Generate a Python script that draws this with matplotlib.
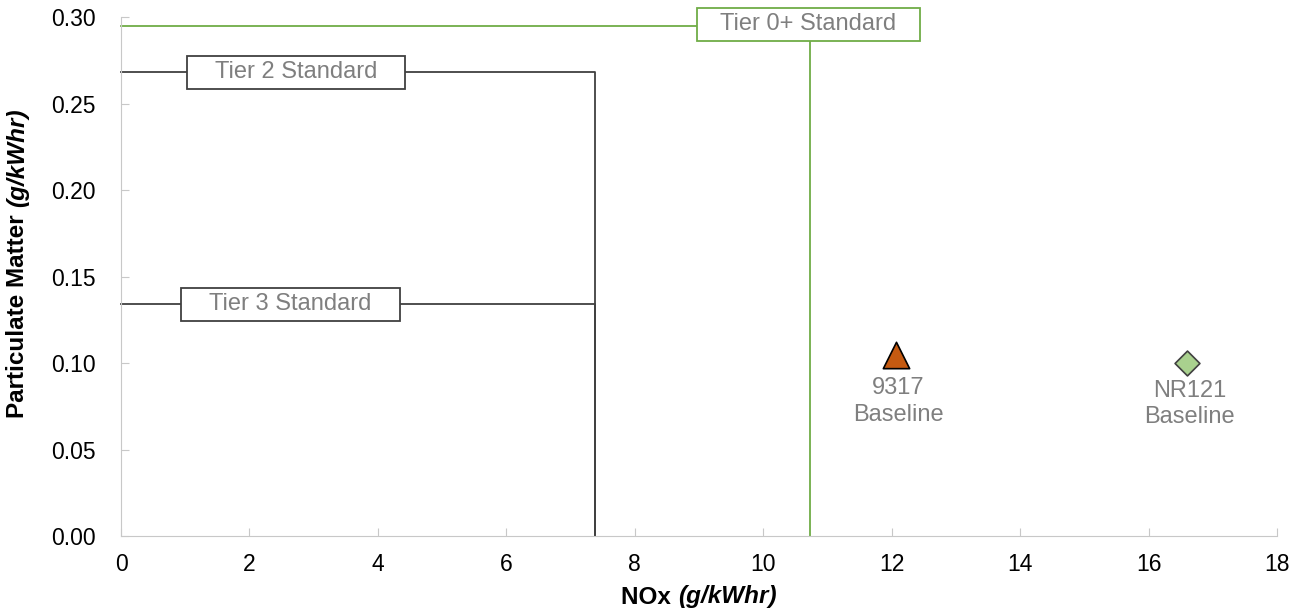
import numpy as np
import matplotlib.pyplot as plt
from matplotlib.patches import Rectangle
from matplotlib.transforms import IdentityTransform

plt.rcParams['font.family'] = ['Liberation Sans', 'DejaVu Sans']

# emission standards: NOx limit and PM limit
tier_names = ["Tier 0+ Standard", "Tier 2 Standard", "Tier 3 Standard"]
tier_nox = [10.73, 7.38, 7.38]
tier_pm = [0.295, 0.268, 0.134]

# measured baselines
eng_names = ["9317\nBaseline", "NR121\nBaseline"]
eng_nox = [12.06, 16.60]
eng_pm = [0.1046, 0.1000]

tier_colors = ["#70AD47", "#404040", "#404040"]
label_x = [10.705, 2.725, 2.64]
label_dy = [0.0009, 0.0, 0.0]
txt_gray = "#7F7F7F"

fig = plt.figure(figsize=(13.04, 6.14), dpi=100)
ax = fig.add_axes([0.0928, 0.127, 0.8865, 0.8453])

tier_txt = []
for name, nx, pm, c, lx, dy in zip(tier_names, tier_nox, tier_pm, tier_colors, label_x, label_dy):
    ax.plot([0, nx, nx], [pm, pm, 0], color=c, lw=1.3, zorder=2, clip_on=False)
    t = ax.text(lx, pm + dy, name, ha='center', va='center', fontsize=17, color=txt_gray,
                zorder=5)
    tier_txt.append((t, lx, pm + dy, c))

ax.scatter(eng_nox[0], eng_pm[0], marker='^', s=360, color='#C55A11', edgecolor='black',
           lw=1.2, zorder=4)
ax.scatter(eng_nox[1], eng_pm[1], marker='D', s=160, color='#A9D18E', edgecolor='#404040',
           lw=1.2, zorder=4)
for n, x, y, off in zip(eng_names, eng_nox, eng_pm, [16, 12]):
    ax.annotate(n, (x, y), xytext=(2, -off), textcoords='offset points', ha='center',
                va='top', fontsize=17, color=txt_gray, linespacing=1.25)

ax.set_xlim(0, 18)
ax.set_ylim(0, 0.30)
ax.set_xticks(np.arange(0, 19, 2))
ax.set_yticks(np.arange(0, 0.31, 0.05))
ax.yaxis.set_major_formatter(plt.FormatStrFormatter('%.2f'))
for s in ['top', 'right']:
    ax.spines[s].set_visible(False)
for s in ['left', 'bottom']:
    ax.spines[s].set_color('#C8C8C8')
ax.tick_params(direction='in', length=6, color='#C8C8C8', labelsize=16.5, labelcolor='black')
ax.tick_params(axis='x', pad=12.5)
ax.tick_params(axis='y', pad=18)

fig.canvas.draw()
r = fig.canvas.get_renderer()

# label boxes sized in pixels around the text
for t, lx, ly, c in tier_txt:
    bb = t.get_window_extent(r)
    cx, cy = ax.transData.transform((lx, ly))
    w = min(bb.width + 56, 223)
    h = 33
    rect = Rectangle((cx - w / 2, cy - h / 2), w, h, fc='white', ec=c, lw=1.3, zorder=3,
                     transform=IdentityTransform(), clip_on=False)
    ax.add_artist(rect)

# axis titles, bold with italic units
t1 = fig.text(0.5, 1 - 597 / 614, "NOx ", fontsize=17.5, fontweight='bold', ha='left',
              va='center')
t2 = fig.text(0.5, 1 - 597 / 614, "(g/kWhr)", fontsize=17.5, fontweight='bold',
              style='italic', ha='left', va='center')
w1 = t1.get_window_extent(r).width
w2 = t2.get_window_extent(r).width
cx = 699
t1.set_x((cx - (w1 + w2) / 2) / 1304)
t2.set_x((cx - (w1 + w2) / 2 + w1) / 1304)

s1 = fig.text(18 / 1304, 0.5, "Particulate Matter ", fontsize=17.5, fontweight='bold',
              rotation=90, ha='center', va='bottom')
s2 = fig.text(18 / 1304, 0.5, "(g/kWhr)", fontsize=17.5, fontweight='bold', style='italic',
              rotation=90, ha='center', va='bottom')
h1 = s1.get_window_extent(r).height
h2 = s2.get_window_extent(r).height
cy = 614 - 263
s1.set_y((cy - (h1 + h2) / 2) / 614)
s2.set_y((cy - (h1 + h2) / 2 + h1) / 614)

fig.savefig("out.png", dpi=100)
